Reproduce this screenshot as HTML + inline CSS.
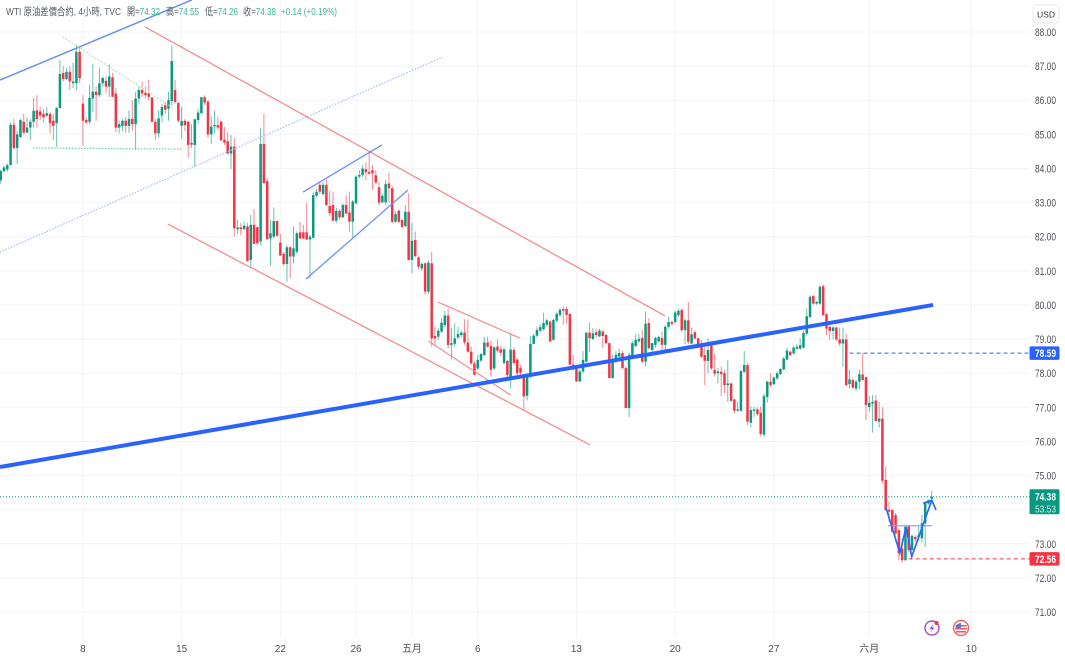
<!DOCTYPE html>
<html lang="zh-Hant">
<head>
<meta charset="utf-8">
<title>WTI 原油差價合約</title>
<style>
html,body{margin:0;padding:0;background:#fff;width:1065px;height:658px;overflow:hidden}
svg{display:block;font-family:"Liberation Sans","Noto Sans CJK TC",sans-serif}
</style>
</head>
<body>
<svg id="chart" xmlns="http://www.w3.org/2000/svg" width="1065" height="658" viewBox="0 0 1065 658">
  <defs>
    <filter id="soft" x="-2%" y="-2%" width="104%" height="104%"><feGaussianBlur stdDeviation="0.3"/></filter>
  </defs>
  <rect x="0" y="0" width="1065" height="658" fill="#ffffff"/>
  <g id="grid"></g>
  <g id="candles" filter="url(#soft)"></g>
  <g id="drawings" filter="url(#soft)"></g>
  <g id="axis"></g>
  <g font-size="10.5">
    <text x="6" y="15" fill="#555b66" textLength="115" lengthAdjust="spacingAndGlyphs">WTI 原油差價合約, 4小時, TVC</text>
    <text x="127" y="15" fill="#555b66" textLength="33" lengthAdjust="spacingAndGlyphs">開=<tspan fill="#3fb39b">74.32</tspan></text>
    <text x="166" y="15" fill="#555b66" textLength="33" lengthAdjust="spacingAndGlyphs">高=<tspan fill="#3fb39b">74.55</tspan></text>
    <text x="205" y="15" fill="#555b66" textLength="33" lengthAdjust="spacingAndGlyphs">低=<tspan fill="#3fb39b">74.26</tspan></text>
    <text x="243" y="15" fill="#555b66" textLength="33" lengthAdjust="spacingAndGlyphs">收=<tspan fill="#3fb39b">74.38</tspan></text>
    <text x="281" y="15" fill="#3fb39b" textLength="56" lengthAdjust="spacingAndGlyphs">+0.14 (+0.19%)</text>
  </g>
  <g>
    <rect x="1033" y="5" width="26" height="18" rx="3" fill="#fff" stroke="#e6e8ee"/>
    <text x="1046" y="17.5" font-size="8.5" text-anchor="middle" fill="#333">USD</text>
  </g>
  <g>
    <circle cx="932" cy="628" r="7" fill="#fff" stroke="#a94cc4" stroke-width="1.4"/>
    <polygon points="933.5,623.5 929.5,629 932,629 930.5,632.5 934.5,627.5 932,627.5" fill="#a94cc4"/>
    <circle cx="936.5" cy="623" r="2" fill="#f23645"/>
  </g>
  <g>
    <circle cx="961" cy="628" r="7.5" fill="#fff" stroke="#f0616b" stroke-width="1.4"/>
    <rect x="955.5" y="625" width="11" height="1.6" fill="#ef5a63"/>
    <rect x="955" y="628" width="12" height="1.6" fill="#ef5a63"/>
    <rect x="956" y="631" width="10" height="1.6" fill="#ef5a63"/>
    <path d="M961 623 A5.5 5.5 0 0 0 955.5 628 L961 628 Z" fill="#4f78d8"/>
  </g>
</svg>
<script>
const opens=[83.65,83.92,83.97,84.1,85.28,84.6,84.92,85.37,85.05,85.2,
85.37,85.7,85.67,85.6,85.55,85.6,85.4,85.33,85.77,86.8,
86.62,86.83,86.5,86.5,87.42,85.9,85.42,85.37,86.05,86.25,
86.15,86.5,86.57,86.4,86.67,86.2,85.2,85.25,85.4,85.25,
85.45,85.3,86.05,86.3,86.22,86.2,86.08,85.37,85.03,85.55,
85.85,85.75,85.98,86.3,85.92,85.25,85.4,85.37,84.75,84.69,
85.42,85.62,86.09,85.96,85,85.23,85.27,85.37,84.85,84.8,
84.44,84.64,82.22,82.27,82.22,82.3,81.32,82.35,82.28,81.86,
84.72,83.63,81.95,82,82.46,81.83,81.5,81.2,81.69,81.42,
81.56,82.13,82.13,82.13,81.92,81.97,83.2,83.52,83.25,83.52,
82.9,82.93,82.47,82.76,82.57,82.93,82.71,82.44,82.98,83.76,
83.81,83.98,83.9,83.95,83.8,83.45,83.01,83.01,83.56,83.42,
82.44,82.76,82.49,82.31,82.73,81.32,81.9,81.39,81.07,81.22,
80.39,81.22,79.09,79.07,79.22,79.41,79.69,78.83,78.86,79.05,
79.12,79.19,78.9,78.63,78.29,78.14,78.37,78.53,78.9,78.8,
78.14,78.78,78.7,78.3,78.36,77.8,78.68,78.4,78.15,77.92,
77.34,77.9,78.86,79.1,79.25,79.29,79.42,79.51,78.98,79.54,
79.71,79.88,79.88,79.74,78.25,78.13,77.76,78.05,78.34,79.19,
79,79.2,79.08,79.22,79.12,78.88,77.86,78.36,78.49,78.59,
78.15,76.98,78.49,78.8,78.93,79.03,78.34,79.47,78.68,78.83,
78.93,79.03,78.83,79.36,79.5,79.5,79.7,79.85,79.26,79.55,
78.87,79.2,79.02,78.82,78.53,78.36,78.82,78.09,78,78.04,
78,77.65,77.7,77.23,76.9,76.9,78.04,78.24,76.55,76.9,
76.94,76.84,76.2,77.3,77.75,77.68,77.85,77.97,78.11,78.4,
78.63,78.58,78.72,78.72,78.75,79.16,79.65,80.26,80.04,80.04,
80.55,79.73,79.36,79.24,79.34,78.99,78.87,78.99,77.68,77.8,
77.55,77.75,77.96,77.88,77.01,77.11,77.2,76.58,76.67,74.87,
74,73.99,73.84,73.4,72.86,72.52,73.52,72.82,73.2,73.2,
73.16,73.6,74.18,74.32];
const highs=[83.95,84.08,84.15,85.35,85.45,85.1,85.45,85.6,85.5,85.45,
86.07,86.15,85.8,85.75,85.8,85.65,85.6,85.8,87.18,87,
86.95,87,87.1,87.62,87.55,86.15,85.5,86.45,87.07,86.4,
86.95,86.7,86.7,87.05,86.8,86.35,85.4,85.45,85.5,85.7,
86,86.25,86.4,86.55,86.4,86.6,86.1,85.45,85.7,85.9,
85.95,86.25,87.6,86.6,85.95,85.8,85.45,85.4,85.3,85.46,
85.75,86.1,86.15,86,85.52,85.7,85.52,85.4,85.22,85.05,
84.98,84.9,82.5,82.4,82.44,82.4,82.64,82.81,82.3,85.2,
85.6,83.73,82.5,82.86,82.48,82.08,81.55,81.75,81.72,82.3,
82.15,82.44,82.34,83,82.05,83.3,83.4,83.6,83.6,83.68,
83.35,83.32,82.85,82.8,82.98,83.22,83.32,83.08,83.8,83.95,
84.1,84.18,84.49,84.1,83.95,83.6,83.25,83.66,83.88,83.5,
82.75,82.8,82.52,82.93,83.27,82.41,82.15,81.45,81.25,81.25,
81.3,81.56,79.36,79.32,79.61,79.83,79.9,79.32,79.46,79.36,
79.25,79.58,79.58,78.78,78.35,78.54,78.6,79.07,79.07,78.95,
78.78,78.99,78.8,78.75,78.4,79.17,78.75,78.45,78.25,77.95,
77.95,79.1,79.15,79.35,79.45,79.76,79.6,79.55,79.6,79.78,
79.9,79.95,79.95,79.75,78.54,78.15,78.1,78.65,79.2,79.49,
79.32,79.3,79.3,79.27,79.15,78.9,78.55,78.65,78.72,78.66,
78.2,78.6,78.95,79.14,79.15,79.27,79.81,79.61,78.9,79.07,
79.1,79.22,79.4,79.65,79.55,79.85,79.9,79.9,79.6,80.09,
79.34,79.25,79.05,78.97,78.8,79.02,78.9,78.58,78.15,78.2,
78.1,78.38,77.72,77.25,77.16,78.1,78.65,78.3,77.04,77.02,
77,77.03,77.4,77.78,78,77.9,78.05,78.15,78.48,78.75,
78.66,78.8,78.85,79.02,79.25,79.9,80.28,80.3,80.12,80.58,
80.6,79.76,79.4,79.38,79.36,79.34,79.34,79.15,78.11,77.85,
77.8,78.11,78.59,77.9,77.33,77.36,77.36,77.16,77,75.26,
74.23,74.02,73.9,73.45,73.15,73.52,73.55,73.28,73.25,73.5,
73.85,74.2,74.3,74.55];
const lows=[83.55,83.9,83.9,84.1,84.55,84.13,84.9,85,85.05,84.83,
85.2,85.2,85.42,85.35,85.5,85.03,84.83,84.63,85.77,86.55,
86.6,86.3,86.35,86.3,86.5,84.66,85.3,85.3,85.65,85.4,
86.1,86.4,86.2,86.1,86.1,85.07,85.03,85.1,85.05,85.05,
85.1,84.54,85.9,86.1,86.05,86,85.35,84.83,84.9,85.35,
85.6,85.4,85.85,85.9,85.35,84.88,85.1,84.32,84.6,84.05,
85.3,85.6,85.85,84.9,84.72,85.03,85.12,84.8,84.69,84.42,
83.98,82,82.07,82.05,82.2,81.27,81.07,81.79,81.75,81.75,
83.54,81.9,81.14,81.95,82,81.43,81.15,80.68,80.78,81.22,
81.5,81.93,81.93,81.9,80.78,81.95,83.15,83.25,83.2,82.9,
82.6,82.45,82.4,82.5,82.55,82.66,82.15,81.98,82.95,83.7,
83.75,83.66,83.8,83.37,83.55,82.93,82.98,82.95,83,82.4,
82.4,82.4,82.25,82.28,81.3,80.93,81.4,81.05,81,80.3,
80.31,78.78,78.8,78.97,79.18,79.35,78.73,78.41,78.78,79,
79.05,78.83,78.6,78.24,77.95,78.1,78.33,78.5,78.75,77.9,
78.1,78.6,78.5,78.25,77.85,77.55,78.25,77.9,77.95,76.9,
77.2,77.85,78.85,79.05,79.2,79.25,79.35,78.9,78.95,79.5,
79.65,79.42,79.45,78.23,78.08,77.74,77.74,78,78.3,78.62,
78.98,79.05,79.05,78.75,78.85,77.84,77.84,78.3,78.45,78.13,
76.97,76.71,78.45,78.75,78.9,78.3,78.2,78.7,78.6,78.75,
78.9,78.6,78.63,79.3,79.4,79.45,79.65,79.2,78.85,78.85,
78.85,78.98,78.73,78.45,77.65,78,78.1,77.9,77.7,77.33,
77.41,77.16,77.17,76.82,76.87,76.87,78,76.48,76.41,76.72,
76.75,76.16,76.14,77.14,77.6,77.65,77.8,77.95,78.08,78.38,
78.5,78.55,78.68,78.68,78.72,79.1,79.62,80,80,80,
79.68,79.12,78.97,79,78.95,78.8,78.19,77.62,77.55,77.55,
77.48,77.52,77.78,76.63,76.87,76.26,76.58,76.41,74.77,73.97,
73.65,73.33,73.25,72.52,72.44,72.5,72.75,72.8,73.05,73.08,
73.03,72.9,74.15,74.26];
const closes=[83.93,84.03,84.1,85.28,84.6,85,85.42,85.05,85.2,85.37,
85.69,85.45,85.55,85.5,85.62,85.33,85.25,85.77,86.77,86.62,
86.83,86.55,86.55,87.42,86.65,85.4,85.35,86.07,86.25,86.15,
86.5,86.65,86.4,86.7,86.1,85.2,85.3,85.4,85.25,85.45,
85.3,86.05,86.3,86.2,86.15,86.1,85.37,85.03,85.47,85.8,
85.72,86,87.15,85.95,85.4,85.39,85.27,84.69,84.7,85.44,
85.64,86.09,85.93,85,85.23,85.27,85.2,84.83,84.76,84.44,
84.64,82.25,82.27,82.22,82.32,81.29,82.35,81.79,81.81,84.72,
83.57,81.93,82.1,82.46,82.03,81.45,81.2,81.69,81.42,81.66,
82.1,81.95,81.95,81.92,82,83.22,83.32,83.32,83.52,82.93,
82.69,82.47,82.76,82.57,82.93,82.68,82.44,83.03,83.76,83.81,
84,83.89,83.85,83.86,83.59,83,83.2,83.54,83.42,82.44,
82.66,82.44,82.29,82.73,81.32,81.88,81.43,81.12,81.2,80.39,
81.24,79.02,79.02,79.24,79.48,79.69,78.83,78.88,79.02,79.15,
79.19,78.9,78.63,78.29,77.95,78.39,78.56,78.9,78.78,78.1,
78.76,78.66,78.6,78.7,77.95,78.69,78.3,78,78.02,77.32,
77.92,78.86,79.1,79.27,79.35,79.47,79.55,78.93,79.56,79.74,
79.86,79.83,79.71,78.25,78.12,77.76,78.05,78.39,79.19,79.03,
79.17,79.12,79.25,79.09,78.88,77.86,78.39,78.54,78.59,78.15,
76.98,78.54,78.88,78.98,79.01,78.34,79.45,78.73,78.88,79.03,
79.06,78.83,79.36,79.5,79.45,79.78,79.83,79.26,79.55,78.92,
79.14,79.02,78.75,78.48,78.36,78.68,78.14,77.99,78.05,77.97,
77.65,77.7,77.19,76.9,76.94,78.06,78.24,76.58,76.92,76.94,
76.8,76.22,77.33,77.75,77.65,77.87,78,78.12,78.43,78.66,
78.53,78.75,78.77,78.82,79.18,79.67,80.24,80.04,80.09,80.53,
79.7,79.31,79.24,79.34,78.99,78.87,78.99,77.65,77.82,77.58,
77.75,77.97,77.8,77.07,77.13,77.16,76.6,76.67,74.85,73.99,
73.94,73.35,73.3,72.72,72.52,73.5,72.82,73.23,73.13,73.25,
73.6,74.2,74.28,74.38];
const priceTicks=[88,87,86,85,84,83,82,81,80,79,78,77,76,75,74,73,72,71];
const timeTickLabels=['8','15','22','26','五月','6','13','20','27','六月','10'];
const timeTickBars=[25,55,85,108,125,145,175,205,235,264,295];
const lastPrice=74.38;
const lastCountdown='53:53';
const resistanceLevel=78.59;
const supportLevel=72.56;
const resistanceStartBar=258;
const supportStartBar=276;
const trendNames=['blue-upper-channel','green-falling-trend','green-support-dotted','blue-dotted-parallel','red-upper-channel','red-lower-channel','blue-wedge-upper','blue-wedge-lower','red-small-upper','red-small-lower','thick-blue-trend','blue-neckline'];
const trendValues=[
[-0.2,86.59,58.1,88.94],
[18.8,87.86,52.4,85.77],
[9.8,84.6,55.1,84.57],
[-0.2,81.55,134.4,87.27],
[43.9,88.15,201.9,79.68],
[50.8,82.37,179.1,75.9],
[91.9,83.31,115.9,84.69],
[92.8,80.76,123.8,83.37],
[133,80.08,157.8,79.03],
[130,78.94,155,77.36],
[-0.2,75.25,283.4,80],
[269.7,73.53,283,73.53]];
const patternBars=[269.1,273.3,275.2,276.9,283];
const patternPrices=[74.05,72.73,73.49,72.62,74.28];
const arrowBars=[280.4,283,284.3];
const arrowPrices=[74.19,74.28,73.99];

const NS='http://www.w3.org/2000/svg';
const xOf=function(i){return 0.7+3.29*i;};
const yOf=function(p){return 32+(88-p)*34.12;};
const UP='#089981',DOWN='#f23645',AXIS_RIGHT=1029.5;
const trendColors=['#6a8ff5','#bfe3b8','#6cc9b0','#aebff8','#f58c92','#f58c92','#6a8ff5','#6a8ff5','#f58c92','#f58c92','#2962ff','#8aa6f5'];
const trendWidths=[1.5,1.2,1.2,1.3,1.3,1.3,1.3,1.3,1.2,1.2,4,1.3];
const trendDashes=['','2 1.5','1.5 1.5','1.5 1.5','','','','','','','',''];

function make(tag,parent){
  const el=document.createElementNS(NS,tag);
  parent.appendChild(el);
  return el;
}
const grid=document.getElementById('grid');
const candlesG=document.getElementById('candles');
const drawings=document.getElementById('drawings');
const axis=document.getElementById('axis');

priceTicks.forEach(function(p){
  const g=make('line',grid);
  
  
  g.setAttribute('x1',0);g.setAttribute('x2',AXIS_RIGHT);
  g.setAttribute('y1',yOf(p));g.setAttribute('y2',yOf(p));
  g.setAttribute('stroke','#f3f4f6');g.setAttribute('stroke-width',1);
  const t=make('text',axis);
  
  
  t.setAttribute('x',1035);t.setAttribute('y',yOf(p)+4);
  t.setAttribute('font-size',11);t.setAttribute('fill','#4a4e57');
  t.setAttribute('textLength',21);t.setAttribute('lengthAdjust','spacingAndGlyphs');
  t.textContent=p.toFixed(2);
});
timeTickBars.forEach(function(b,k){
  const g=make('line',grid);
  
  
  g.setAttribute('x1',xOf(b));g.setAttribute('x2',xOf(b));
  g.setAttribute('y1',0);g.setAttribute('y2',638);
  g.setAttribute('stroke','#f3f4f6');g.setAttribute('stroke-width',1);
  const t=make('text',axis);
  
  
  t.setAttribute('x',xOf(b));t.setAttribute('y',652);
  t.setAttribute('font-size',10);t.setAttribute('fill','#4a4e57');
  t.setAttribute('text-anchor','middle');
  t.textContent=timeTickLabels[k];
});

closes.forEach(function(c,i){
  const o=opens[i],h=highs[i],l=lows[i];
  const col=c>=o?UP:DOWN;
  const x=xOf(i);
  const wick=make('line',candlesG);
  
  
  wick.setAttribute('x1',x);wick.setAttribute('x2',x);
  wick.setAttribute('y1',yOf(h));wick.setAttribute('y2',yOf(l));
  wick.setAttribute('stroke',col);wick.setAttribute('stroke-opacity',0.6);wick.setAttribute('stroke-width',1);
  const top=yOf(Math.max(o,c)),bot=yOf(Math.min(o,c));
  const body=make('rect',candlesG);
  
  
  body.setAttribute('x',x-1.25);body.setAttribute('width',2.5);
  body.setAttribute('y',top);body.setAttribute('height',Math.max(1.2,bot-top));
  body.setAttribute('fill',col);
});

function hLine(price,startX,color,dash,name){
  const ln=make('line',drawings);
  
  
  ln.setAttribute('x1',startX);ln.setAttribute('x2',AXIS_RIGHT);
  ln.setAttribute('y1',yOf(price));ln.setAttribute('y2',yOf(price));
  ln.setAttribute('stroke',color);ln.setAttribute('stroke-width',1);ln.setAttribute('stroke-dasharray',dash);
}
hLine(lastPrice,0,UP,'1 2','last-price-line');
hLine(resistanceLevel,xOf(resistanceStartBar),'#2962ff','4 3','resistance-level-line');
hLine(supportLevel,xOf(supportStartBar),DOWN,'4 3','support-level-line');

trendValues.forEach(function(v,k){
  const ln=make('line',drawings);
  
  
  ln.setAttribute('x1',xOf(v[0]));ln.setAttribute('y1',yOf(v[1]));
  ln.setAttribute('x2',xOf(v[2]));ln.setAttribute('y2',yOf(v[3]));
  ln.setAttribute('stroke',trendColors[k]);ln.setAttribute('stroke-width',trendWidths[k]);
  if(trendDashes[k]){ln.setAttribute('stroke-dasharray',trendDashes[k]);}
});

const pattern=make('polyline',drawings);


pattern.setAttribute('points',patternBars.map(function(b,k){return xOf(b)+','+yOf(patternPrices[k]);}).join(' '));
pattern.setAttribute('fill','none');pattern.setAttribute('stroke','#2962ff');pattern.setAttribute('stroke-width',1.6);
const arrow=make('polyline',drawings);


arrow.setAttribute('points',arrowBars.map(function(b,k){return xOf(b)+','+yOf(arrowPrices[k]);}).join(' '));
arrow.setAttribute('fill','none');arrow.setAttribute('stroke','#2962ff');arrow.setAttribute('stroke-width',1.6);

function priceTag(price,height,color,name,extra){
  const cy=yOf(price);
  const top=extra?cy-7.5:cy-6.7;
  const r=make('rect',axis);
  
  
  r.setAttribute('x',1029.5);r.setAttribute('y',top);r.setAttribute('width',30);r.setAttribute('height',height);r.setAttribute('rx',1.5);
  r.setAttribute('fill',color);
  const t=make('text',axis);
  
  
  t.setAttribute('x',1035);t.setAttribute('y',cy+4);t.setAttribute('font-size',11);t.setAttribute('font-weight','bold');t.setAttribute('fill','#fff');
  t.setAttribute('textLength',21);t.setAttribute('lengthAdjust','spacingAndGlyphs');
  t.textContent=price.toFixed(2);
  if(extra){
    const s=make('text',axis);
    
    
    s.setAttribute('x',1035);s.setAttribute('y',cy+16);s.setAttribute('font-size',10.5);s.setAttribute('fill','#d8efe9');
    s.setAttribute('textLength',21);s.setAttribute('lengthAdjust','spacingAndGlyphs');
    s.textContent=extra;
  }
}
priceTag(resistanceLevel,13.5,'#2962ff','resistance-price-tag');
priceTag(lastPrice,25,UP,'last-price-tag',lastCountdown);
priceTag(supportLevel,13.5,DOWN,'support-price-tag');
</script>
</body>
</html>
